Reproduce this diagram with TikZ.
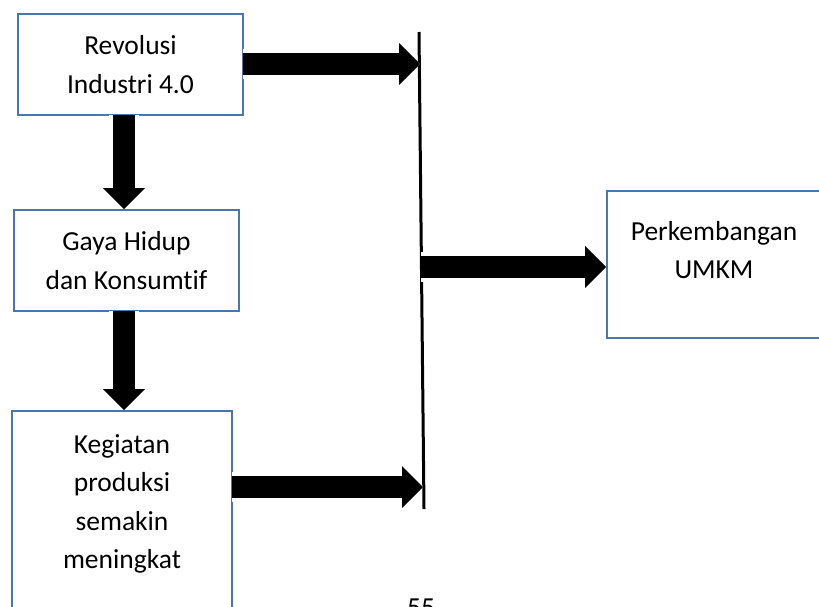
\documentclass[tikz,border=0pt]{standalone}
\usepackage{fontspec}
\setmainfont{Carlito}[Ligatures=NoCommon]
\usepackage{xcolor}
\usetikzlibrary{arrows.meta}

\definecolor{cadre}{RGB}{74,119,170}

\begin{document}
\begin{tikzpicture}[x=1pt, y=-1pt,
        boite/.style={draw=cadre, line width=2pt, inner sep=0pt},
        texte/.style={font=\fontsize{27.5}{38.5}\selectfont, align=center, inner sep=0pt},
        fleche/.style={line width=22pt, -{Triangle[length=21pt, width=42pt, line width=0pt]},
            preaction={draw=white, line width=30pt}}]
        \useasboundingbox (0,0) rectangle (819,606);
        % Boites
        \node[boite, texte, minimum width=225pt, minimum height=101pt] (revolusi) at (130.5,64.5) {Revolusi\\Industri 4.0};
        \node[boite, texte, minimum width=225pt, minimum height=101pt] (gaya) at (126.5,260.5) {Gaya Hidup\\dan Konsumtif};
        \node[boite, minimum width=220pt, minimum height=240pt] (kegiatan) at (122,531) {};
        \node[texte, anchor=north, yshift=-24pt] (kegiatantxt) at (kegiatan.north) {Kegiatan\\produksi\\semakin\\meningkat};
        \node[boite, minimum width=214pt, minimum height=147pt] (umkm) at (714,264.5) {};
        \node[texte, anchor=north, yshift=-31pt] (umkmtxt) at (umkm.north) {Perkembangan\\UMKM};
        % Barre verticale
        \coordinate (haut) at (419,32);
        \coordinate (bas) at (424,509);
        \draw[line width=3pt] (haut) -- (bas);
        \coordinate (in1) at (420,64);
        \coordinate (in2) at (423,487);
        \coordinate (sortie) at (421,267);
        % Fleches
        \draw[fleche] ([xshift=-1pt]revolusi.east |- in1) -- (in1);
        \draw[fleche] ([xshift=-1pt]kegiatan.east |- in2) -- (in2);
        \draw[fleche] (sortie) -- (sortie -| umkm.west);
        \draw[fleche] ([xshift=-6.5pt, yshift=1pt]revolusi.south) coordinate (d1) -- (d1 |- gaya.north);
        \draw[fleche] ([xshift=-2.5pt, yshift=1pt]gaya.south) coordinate (d2) -- (d2 |- kegiatan.north);
        % Page
        \node[texte, anchor=base] (halaman) at (421,616) {55};
\end{tikzpicture}
\end{document}
